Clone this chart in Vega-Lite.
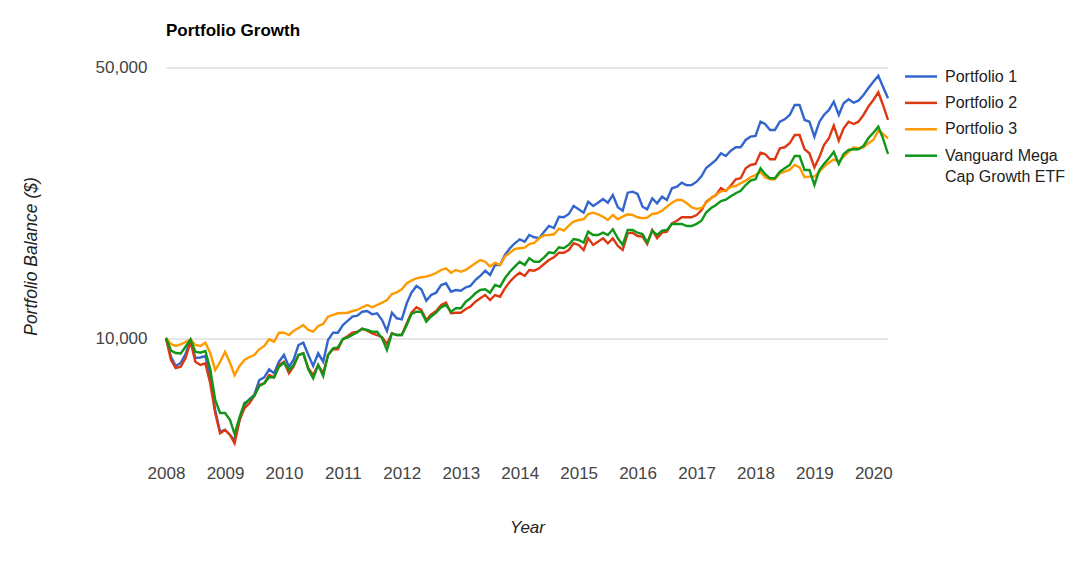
{
  "$schema": "https://vega.github.io/schema/vega-lite/v6.json",
  "width": 722,
  "height": 403,
  "autosize": {"type": "none"},
  "padding": {"left": 166, "top": 51.5, "right": 199, "bottom": 107.5},
  "background": "white",
  "config": {
    "view": {"stroke": null},
    "font": "Liberation Sans",
    "style": {"guide-label": {"lineHeight": 21.7}}
  },
  "title": {"text": "Portfolio Growth", "anchor": "start", "frame": "group", "font": "Liberation Sans", "fontSize": 17, "fontWeight": "bold", "color": "#000000", "baseline": "alphabetic", "offset": -1.9},
  "data": {"values": [
    {"date": "2008-01-01", "Portfolio 1": 10000, "Portfolio 2": 10000, "Portfolio 3": 10000, "Vanguard Mega Cap Growth ETF": 10000},
    {"date": "2008-02-01", "Portfolio 1": 8947, "Portfolio 2": 8773, "Portfolio 3": 9650, "Vanguard Mega Cap Growth ETF": 9282},
    {"date": "2008-03-01", "Portfolio 1": 8466, "Portfolio 2": 8365, "Portfolio 3": 9537, "Vanguard Mega Cap Growth ETF": 9146},
    {"date": "2008-04-01", "Portfolio 1": 8618, "Portfolio 2": 8430, "Portfolio 3": 9621, "Vanguard Mega Cap Growth ETF": 9119},
    {"date": "2008-05-01", "Portfolio 1": 9092, "Portfolio 2": 8862, "Portfolio 3": 9765, "Vanguard Mega Cap Growth ETF": 9495},
    {"date": "2008-06-01", "Portfolio 1": 9853, "Portfolio 2": 9783, "Portfolio 3": 9911, "Vanguard Mega Cap Growth ETF": 9911},
    {"date": "2008-07-01", "Portfolio 1": 8878, "Portfolio 2": 8685, "Portfolio 3": 9592, "Vanguard Mega Cap Growth ETF": 9214},
    {"date": "2008-08-01", "Portfolio 1": 8905, "Portfolio 2": 8516, "Portfolio 3": 9537, "Vanguard Mega Cap Growth ETF": 9162},
    {"date": "2008-09-01", "Portfolio 1": 8985, "Portfolio 2": 8600, "Portfolio 3": 9724, "Vanguard Mega Cap Growth ETF": 9255},
    {"date": "2008-10-01", "Portfolio 1": 7944, "Portfolio 2": 7637, "Portfolio 3": 9146, "Vanguard Mega Cap Growth ETF": 8316},
    {"date": "2008-11-01", "Portfolio 1": 6516, "Portfolio 2": 6388, "Portfolio 3": 8266, "Vanguard Mega Cap Growth ETF": 6915},
    {"date": "2008-12-01", "Portfolio 1": 5726, "Portfolio 2": 5672, "Portfolio 3": 8670, "Vanguard Mega Cap Growth ETF": 6400},
    {"date": "2009-01-01", "Portfolio 1": 5785, "Portfolio 2": 5785, "Portfolio 3": 9214, "Vanguard Mega Cap Growth ETF": 6400},
    {"date": "2009-02-01", "Portfolio 1": 5615, "Portfolio 2": 5615, "Portfolio 3": 8618, "Vanguard Mega Cap Growth ETF": 6139},
    {"date": "2009-03-01", "Portfolio 1": 5451, "Portfolio 2": 5344, "Portfolio 3": 8023, "Vanguard Mega Cap Growth ETF": 5648},
    {"date": "2009-04-01", "Portfolio 1": 6139, "Portfolio 2": 6139, "Portfolio 3": 8466, "Vanguard Mega Cap Growth ETF": 6250},
    {"date": "2009-05-01", "Portfolio 1": 6713, "Portfolio 2": 6582, "Portfolio 3": 8773, "Vanguard Mega Cap Growth ETF": 6793},
    {"date": "2009-06-01", "Portfolio 1": 6956, "Portfolio 2": 6781, "Portfolio 3": 8931, "Vanguard Mega Cap Growth ETF": 6915},
    {"date": "2009-07-01", "Portfolio 1": 7124, "Portfolio 2": 7083, "Portfolio 3": 9038, "Vanguard Mega Cap Growth ETF": 7083},
    {"date": "2009-08-01", "Portfolio 1": 7789, "Portfolio 2": 7560, "Portfolio 3": 9349, "Vanguard Mega Cap Growth ETF": 7516},
    {"date": "2009-09-01", "Portfolio 1": 7915, "Portfolio 2": 7637, "Portfolio 3": 9537, "Vanguard Mega Cap Growth ETF": 7637},
    {"date": "2009-10-01", "Portfolio 1": 8300, "Portfolio 2": 8023, "Portfolio 3": 9923, "Vanguard Mega Cap Growth ETF": 7915},
    {"date": "2009-11-01", "Portfolio 1": 8105, "Portfolio 2": 7915, "Portfolio 3": 9783, "Vanguard Mega Cap Growth ETF": 7915},
    {"date": "2009-12-01", "Portfolio 1": 8685, "Portfolio 2": 8516, "Portfolio 3": 10321, "Vanguard Mega Cap Growth ETF": 8430},
    {"date": "2010-01-01", "Portfolio 1": 9038, "Portfolio 2": 8685, "Portfolio 3": 10321, "Vanguard Mega Cap Growth ETF": 8634},
    {"date": "2010-02-01", "Portfolio 1": 8430, "Portfolio 2": 8105, "Portfolio 3": 10180, "Vanguard Mega Cap Growth ETF": 8266},
    {"date": "2010-03-01", "Portfolio 1": 8773, "Portfolio 2": 8430, "Portfolio 3": 10426, "Vanguard Mega Cap Growth ETF": 8516},
    {"date": "2010-04-01", "Portfolio 1": 9592, "Portfolio 2": 9038, "Portfolio 3": 10613, "Vanguard Mega Cap Growth ETF": 9038},
    {"date": "2010-05-01", "Portfolio 1": 9724, "Portfolio 2": 9130, "Portfolio 3": 10804, "Vanguard Mega Cap Growth ETF": 9130},
    {"date": "2010-06-01", "Portfolio 1": 9038, "Portfolio 2": 8350, "Portfolio 3": 10489, "Vanguard Mega Cap Growth ETF": 8300},
    {"date": "2010-07-01", "Portfolio 1": 8466, "Portfolio 2": 8023, "Portfolio 3": 10383, "Vanguard Mega Cap Growth ETF": 7868},
    {"date": "2010-08-01", "Portfolio 1": 9130, "Portfolio 2": 8516, "Portfolio 3": 10741, "Vanguard Mega Cap Growth ETF": 8516},
    {"date": "2010-09-01", "Portfolio 1": 8685, "Portfolio 2": 8105, "Portfolio 3": 10869, "Vanguard Mega Cap Growth ETF": 7977},
    {"date": "2010-10-01", "Portfolio 1": 9881, "Portfolio 2": 9038, "Portfolio 3": 11352, "Vanguard Mega Cap Growth ETF": 9038},
    {"date": "2010-11-01", "Portfolio 1": 10321, "Portfolio 2": 9349, "Portfolio 3": 11468, "Vanguard Mega Cap Growth ETF": 9405},
    {"date": "2010-12-01", "Portfolio 1": 10321, "Portfolio 2": 9349, "Portfolio 3": 11583, "Vanguard Mega Cap Growth ETF": 9462},
    {"date": "2011-01-01", "Portfolio 1": 10804, "Portfolio 2": 9941, "Portfolio 3": 11604, "Vanguard Mega Cap Growth ETF": 9941},
    {"date": "2011-02-01", "Portfolio 1": 11085, "Portfolio 2": 10120, "Portfolio 3": 11625, "Vanguard Mega Cap Growth ETF": 10042},
    {"date": "2011-03-01", "Portfolio 1": 11352, "Portfolio 2": 10321, "Portfolio 3": 11743, "Vanguard Mega Cap Growth ETF": 10180},
    {"date": "2011-04-01", "Portfolio 1": 11419, "Portfolio 2": 10383, "Portfolio 3": 11816, "Vanguard Mega Cap Growth ETF": 10345},
    {"date": "2011-05-01", "Portfolio 1": 11695, "Portfolio 2": 10569, "Portfolio 3": 12005, "Vanguard Mega Cap Growth ETF": 10569},
    {"date": "2011-06-01", "Portfolio 1": 11743, "Portfolio 2": 10445, "Portfolio 3": 12170, "Vanguard Mega Cap Growth ETF": 10489},
    {"date": "2011-07-01", "Portfolio 1": 11514, "Portfolio 2": 10283, "Portfolio 3": 12005, "Vanguard Mega Cap Growth ETF": 10383},
    {"date": "2011-08-01", "Portfolio 1": 11583, "Portfolio 2": 10180, "Portfolio 3": 12170, "Vanguard Mega Cap Growth ETF": 10383},
    {"date": "2011-09-01", "Portfolio 1": 11131, "Portfolio 2": 10042, "Portfolio 3": 12338, "Vanguard Mega Cap Growth ETF": 9982},
    {"date": "2011-10-01", "Portfolio 1": 10426, "Portfolio 2": 9650, "Portfolio 3": 12539, "Vanguard Mega Cap Growth ETF": 9310},
    {"date": "2011-11-01", "Portfolio 1": 11625, "Portfolio 2": 10283, "Portfolio 3": 12993, "Vanguard Mega Cap Growth ETF": 10283},
    {"date": "2011-12-01", "Portfolio 1": 11244, "Portfolio 2": 10180, "Portfolio 3": 13126, "Vanguard Mega Cap Growth ETF": 10180},
    {"date": "2012-01-01", "Portfolio 1": 11177, "Portfolio 2": 10180, "Portfolio 3": 13361, "Vanguard Mega Cap Growth ETF": 10180},
    {"date": "2012-02-01", "Portfolio 1": 12294, "Portfolio 2": 10915, "Portfolio 3": 13847, "Vanguard Mega Cap Growth ETF": 10804},
    {"date": "2012-03-01", "Portfolio 1": 13095, "Portfolio 2": 11625, "Portfolio 3": 14067, "Vanguard Mega Cap Growth ETF": 11535},
    {"date": "2012-04-01", "Portfolio 1": 13628, "Portfolio 2": 12005, "Portfolio 3": 14267, "Vanguard Mega Cap Growth ETF": 11695},
    {"date": "2012-05-01", "Portfolio 1": 13361, "Portfolio 2": 11816, "Portfolio 3": 14352, "Vanguard Mega Cap Growth ETF": 11695},
    {"date": "2012-06-01", "Portfolio 1": 12486, "Portfolio 2": 11131, "Portfolio 3": 14404, "Vanguard Mega Cap Growth ETF": 11019},
    {"date": "2012-07-01", "Portfolio 1": 12916, "Portfolio 2": 11500, "Portfolio 3": 14548, "Vanguard Mega Cap Growth ETF": 11365},
    {"date": "2012-08-01", "Portfolio 1": 13095, "Portfolio 2": 11743, "Portfolio 3": 14723, "Vanguard Mega Cap Growth ETF": 11625},
    {"date": "2012-09-01", "Portfolio 1": 13707, "Portfolio 2": 12170, "Portfolio 3": 14990, "Vanguard Mega Cap Growth ETF": 12005},
    {"date": "2012-10-01", "Portfolio 1": 13847, "Portfolio 2": 12338, "Portfolio 3": 15141, "Vanguard Mega Cap Growth ETF": 12170},
    {"date": "2012-11-01", "Portfolio 1": 13173, "Portfolio 2": 11583, "Portfolio 3": 14750, "Vanguard Mega Cap Growth ETF": 11695},
    {"date": "2012-12-01", "Portfolio 1": 13306, "Portfolio 2": 11625, "Portfolio 3": 14990, "Vanguard Mega Cap Growth ETF": 11933},
    {"date": "2013-01-01", "Portfolio 1": 13252, "Portfolio 2": 11625, "Portfolio 3": 14838, "Vanguard Mega Cap Growth ETF": 11933},
    {"date": "2013-02-01", "Portfolio 1": 13523, "Portfolio 2": 11884, "Portfolio 3": 14990, "Vanguard Mega Cap Growth ETF": 12412},
    {"date": "2013-03-01", "Portfolio 1": 13628, "Portfolio 2": 12048, "Portfolio 3": 15286, "Vanguard Mega Cap Growth ETF": 12665},
    {"date": "2013-04-01", "Portfolio 1": 14122, "Portfolio 2": 12412, "Portfolio 3": 15598, "Vanguard Mega Cap Growth ETF": 13048},
    {"date": "2013-05-01", "Portfolio 1": 14464, "Portfolio 2": 12665, "Portfolio 3": 15907, "Vanguard Mega Cap Growth ETF": 13306},
    {"date": "2013-06-01", "Portfolio 1": 14926, "Portfolio 2": 12916, "Portfolio 3": 15748, "Vanguard Mega Cap Growth ETF": 13361},
    {"date": "2013-07-01", "Portfolio 1": 14548, "Portfolio 2": 12539, "Portfolio 3": 15286, "Vanguard Mega Cap Growth ETF": 13095},
    {"date": "2013-08-01", "Portfolio 1": 15440, "Portfolio 2": 12916, "Portfolio 3": 15654, "Vanguard Mega Cap Growth ETF": 13707},
    {"date": "2013-09-01", "Portfolio 1": 15440, "Portfolio 2": 12787, "Portfolio 3": 15440, "Vanguard Mega Cap Growth ETF": 13571},
    {"date": "2013-10-01", "Portfolio 1": 16387, "Portfolio 2": 13442, "Portfolio 3": 16225, "Vanguard Mega Cap Growth ETF": 14267},
    {"date": "2013-11-01", "Portfolio 1": 17054, "Portfolio 2": 13980, "Portfolio 3": 16614, "Vanguard Mega Cap Growth ETF": 14838},
    {"date": "2013-12-01", "Portfolio 1": 17570, "Portfolio 2": 14404, "Portfolio 3": 16984, "Vanguard Mega Cap Growth ETF": 15286},
    {"date": "2014-01-01", "Portfolio 1": 17992, "Portfolio 2": 14750, "Portfolio 3": 17054, "Vanguard Mega Cap Growth ETF": 15748},
    {"date": "2014-02-01", "Portfolio 1": 17738, "Portfolio 2": 14464, "Portfolio 3": 17116, "Vanguard Mega Cap Growth ETF": 15440},
    {"date": "2014-03-01", "Portfolio 1": 18458, "Portfolio 2": 14990, "Portfolio 3": 17496, "Vanguard Mega Cap Growth ETF": 16069},
    {"date": "2014-04-01", "Portfolio 1": 18208, "Portfolio 2": 14926, "Portfolio 3": 17601, "Vanguard Mega Cap Growth ETF": 15748},
    {"date": "2014-05-01", "Portfolio 1": 18100, "Portfolio 2": 15141, "Portfolio 3": 18100, "Vanguard Mega Cap Growth ETF": 15748},
    {"date": "2014-06-01", "Portfolio 1": 18826, "Portfolio 2": 15533, "Portfolio 3": 18426, "Vanguard Mega Cap Growth ETF": 16166},
    {"date": "2014-07-01", "Portfolio 1": 19474, "Portfolio 2": 15907, "Portfolio 3": 18458, "Vanguard Mega Cap Growth ETF": 16644},
    {"date": "2014-08-01", "Portfolio 1": 19243, "Portfolio 2": 16166, "Portfolio 3": 18535, "Vanguard Mega Cap Growth ETF": 16555},
    {"date": "2014-09-01", "Portfolio 1": 20583, "Portfolio 2": 16614, "Portfolio 3": 19163, "Vanguard Mega Cap Growth ETF": 17157},
    {"date": "2014-10-01", "Portfolio 1": 20510, "Portfolio 2": 16614, "Portfolio 3": 18939, "Vanguard Mega Cap Growth ETF": 17054},
    {"date": "2014-11-01", "Portfolio 1": 20915, "Portfolio 2": 16883, "Portfolio 3": 19510, "Vanguard Mega Cap Growth ETF": 17424},
    {"date": "2014-12-01", "Portfolio 1": 21936, "Portfolio 2": 17570, "Portfolio 3": 19979, "Vanguard Mega Cap Growth ETF": 18024},
    {"date": "2015-01-01", "Portfolio 1": 21510, "Portfolio 2": 17394, "Portfolio 3": 20182, "Vanguard Mega Cap Growth ETF": 17917},
    {"date": "2015-02-01", "Portfolio 1": 21078, "Portfolio 2": 16883, "Portfolio 3": 20267, "Vanguard Mega Cap Growth ETF": 17633},
    {"date": "2015-03-01", "Portfolio 1": 22505, "Portfolio 2": 18100, "Portfolio 3": 20915, "Vanguard Mega Cap Growth ETF": 18826},
    {"date": "2015-04-01", "Portfolio 1": 21936, "Portfolio 2": 17394, "Portfolio 3": 21078, "Vanguard Mega Cap Growth ETF": 18458},
    {"date": "2015-05-01", "Portfolio 1": 22370, "Portfolio 2": 17738, "Portfolio 3": 20873, "Vanguard Mega Cap Growth ETF": 18458},
    {"date": "2015-06-01", "Portfolio 1": 22868, "Portfolio 2": 18100, "Portfolio 3": 20583, "Vanguard Mega Cap Growth ETF": 18714},
    {"date": "2015-07-01", "Portfolio 1": 22370, "Portfolio 2": 17570, "Portfolio 3": 20182, "Vanguard Mega Cap Growth ETF": 18458},
    {"date": "2015-08-01", "Portfolio 1": 23418, "Portfolio 2": 18100, "Portfolio 3": 20791, "Vanguard Mega Cap Growth ETF": 19097},
    {"date": "2015-09-01", "Portfolio 1": 21767, "Portfolio 2": 17290, "Portfolio 3": 20267, "Vanguard Mega Cap Growth ETF": 18100},
    {"date": "2015-10-01", "Portfolio 1": 21331, "Portfolio 2": 16883, "Portfolio 3": 20583, "Vanguard Mega Cap Growth ETF": 17394},
    {"date": "2015-11-01", "Portfolio 1": 23743, "Portfolio 2": 18646, "Portfolio 3": 20873, "Vanguard Mega Cap Growth ETF": 19017},
    {"date": "2015-12-01", "Portfolio 1": 23885, "Portfolio 2": 18714, "Portfolio 3": 20791, "Vanguard Mega Cap Growth ETF": 19017},
    {"date": "2016-01-01", "Portfolio 1": 23559, "Portfolio 2": 18350, "Portfolio 3": 20510, "Vanguard Mega Cap Growth ETF": 18714},
    {"date": "2016-02-01", "Portfolio 1": 21846, "Portfolio 2": 18274, "Portfolio 3": 20388, "Vanguard Mega Cap Growth ETF": 18570},
    {"date": "2016-03-01", "Portfolio 1": 21510, "Portfolio 2": 17496, "Portfolio 3": 20461, "Vanguard Mega Cap Growth ETF": 17633},
    {"date": "2016-04-01", "Portfolio 1": 22964, "Portfolio 2": 19017, "Portfolio 3": 20915, "Vanguard Mega Cap Growth ETF": 18939},
    {"date": "2016-05-01", "Portfolio 1": 22290, "Portfolio 2": 18100, "Portfolio 3": 21002, "Vanguard Mega Cap Growth ETF": 18458},
    {"date": "2016-06-01", "Portfolio 1": 23185, "Portfolio 2": 18714, "Portfolio 3": 21331, "Vanguard Mega Cap Growth ETF": 18939},
    {"date": "2016-07-01", "Portfolio 1": 22732, "Portfolio 2": 18826, "Portfolio 3": 21846, "Vanguard Mega Cap Growth ETF": 19017},
    {"date": "2016-08-01", "Portfolio 1": 24372, "Portfolio 2": 19789, "Portfolio 3": 22370, "Vanguard Mega Cap Growth ETF": 19708},
    {"date": "2016-09-01", "Portfolio 1": 24605, "Portfolio 2": 20097, "Portfolio 3": 22732, "Vanguard Mega Cap Growth ETF": 19708},
    {"date": "2016-10-01", "Portfolio 1": 25198, "Portfolio 2": 20510, "Portfolio 3": 22732, "Vanguard Mega Cap Growth ETF": 19708},
    {"date": "2016-11-01", "Portfolio 1": 24812, "Portfolio 2": 20510, "Portfolio 3": 22290, "Vanguard Mega Cap Growth ETF": 19474},
    {"date": "2016-12-01", "Portfolio 1": 24855, "Portfolio 2": 20510, "Portfolio 3": 21767, "Vanguard Mega Cap Growth ETF": 19474},
    {"date": "2017-01-01", "Portfolio 1": 25349, "Portfolio 2": 20791, "Portfolio 3": 21546, "Vanguard Mega Cap Growth ETF": 19708},
    {"date": "2017-02-01", "Portfolio 1": 26223, "Portfolio 2": 21420, "Portfolio 3": 21676, "Vanguard Mega Cap Growth ETF": 20122},
    {"date": "2017-03-01", "Portfolio 1": 27501, "Portfolio 2": 22464, "Portfolio 3": 22330, "Vanguard Mega Cap Growth ETF": 21103},
    {"date": "2017-04-01", "Portfolio 1": 28164, "Portfolio 2": 23005, "Portfolio 3": 22964, "Vanguard Mega Cap Growth ETF": 21676},
    {"date": "2017-05-01", "Portfolio 1": 28843, "Portfolio 2": 23418, "Portfolio 3": 23465, "Vanguard Mega Cap Growth ETF": 22067},
    {"date": "2017-06-01", "Portfolio 1": 30015, "Portfolio 2": 24415, "Portfolio 3": 23938, "Vanguard Mega Cap Growth ETF": 22598},
    {"date": "2017-07-01", "Portfolio 1": 29537, "Portfolio 2": 23985, "Portfolio 3": 24026, "Vanguard Mega Cap Growth ETF": 22773},
    {"date": "2017-08-01", "Portfolio 1": 30483, "Portfolio 2": 24781, "Portfolio 3": 24590, "Vanguard Mega Cap Growth ETF": 23240},
    {"date": "2017-09-01", "Portfolio 1": 31107, "Portfolio 2": 25715, "Portfolio 3": 24707, "Vanguard Mega Cap Growth ETF": 23658},
    {"date": "2017-10-01", "Portfolio 1": 31107, "Portfolio 2": 25866, "Portfolio 3": 25108, "Vanguard Mega Cap Growth ETF": 24026},
    {"date": "2017-11-01", "Portfolio 1": 32490, "Portfolio 2": 27452, "Portfolio 3": 25501, "Vanguard Mega Cap Growth ETF": 24855},
    {"date": "2017-12-01", "Portfolio 1": 33133, "Portfolio 2": 28000, "Portfolio 3": 26022, "Vanguard Mega Cap Growth ETF": 25501},
    {"date": "2018-01-01", "Portfolio 1": 33272, "Portfolio 2": 28164, "Portfolio 3": 26380, "Vanguard Mega Cap Growth ETF": 25715},
    {"date": "2018-02-01", "Portfolio 1": 36226, "Portfolio 2": 30122, "Portfolio 3": 26903, "Vanguard Mega Cap Growth ETF": 27452},
    {"date": "2018-03-01", "Portfolio 1": 35731, "Portfolio 2": 29888, "Portfolio 3": 26022, "Vanguard Mega Cap Growth ETF": 26537},
    {"date": "2018-04-01", "Portfolio 1": 34480, "Portfolio 2": 28961, "Portfolio 3": 25715, "Vanguard Mega Cap Growth ETF": 25866},
    {"date": "2018-05-01", "Portfolio 1": 34480, "Portfolio 2": 28961, "Portfolio 3": 25715, "Vanguard Mega Cap Growth ETF": 25866},
    {"date": "2018-06-01", "Portfolio 1": 36226, "Portfolio 2": 30922, "Portfolio 3": 26648, "Vanguard Mega Cap Growth ETF": 26903},
    {"date": "2018-07-01", "Portfolio 1": 36744, "Portfolio 2": 31107, "Portfolio 3": 26903, "Vanguard Mega Cap Growth ETF": 27452},
    {"date": "2018-08-01", "Portfolio 1": 37701, "Portfolio 2": 31855, "Portfolio 3": 27233, "Vanguard Mega Cap Growth ETF": 28000},
    {"date": "2018-09-01", "Portfolio 1": 40013, "Portfolio 2": 33464, "Portfolio 3": 28000, "Vanguard Mega Cap Growth ETF": 29537},
    {"date": "2018-10-01", "Portfolio 1": 40013, "Portfolio 2": 33464, "Portfolio 3": 27614, "Vanguard Mega Cap Growth ETF": 29537},
    {"date": "2018-11-01", "Portfolio 1": 36594, "Portfolio 2": 30740, "Portfolio 3": 26022, "Vanguard Mega Cap Growth ETF": 27177},
    {"date": "2018-12-01", "Portfolio 1": 36226, "Portfolio 2": 30015, "Portfolio 3": 26117, "Vanguard Mega Cap Growth ETF": 27177},
    {"date": "2019-01-01", "Portfolio 1": 33133, "Portfolio 2": 27614, "Portfolio 3": 26117, "Vanguard Mega Cap Growth ETF": 24855},
    {"date": "2019-02-01", "Portfolio 1": 36226, "Portfolio 2": 29362, "Portfolio 3": 26903, "Vanguard Mega Cap Growth ETF": 27177},
    {"date": "2019-03-01", "Portfolio 1": 37701, "Portfolio 2": 31536, "Portfolio 3": 27714, "Vanguard Mega Cap Growth ETF": 28164},
    {"date": "2019-04-01", "Portfolio 1": 38840, "Portfolio 2": 32817, "Portfolio 3": 28383, "Vanguard Mega Cap Growth ETF": 29135},
    {"date": "2019-05-01", "Portfolio 1": 40804, "Portfolio 2": 35377, "Portfolio 3": 28961, "Vanguard Mega Cap Growth ETF": 30254},
    {"date": "2019-06-01", "Portfolio 1": 37701, "Portfolio 2": 32348, "Portfolio 3": 28552, "Vanguard Mega Cap Growth ETF": 28164},
    {"date": "2019-07-01", "Portfolio 1": 40417, "Portfolio 2": 34830, "Portfolio 3": 29416, "Vanguard Mega Cap Growth ETF": 29888},
    {"date": "2019-08-01", "Portfolio 1": 41389, "Portfolio 2": 36226, "Portfolio 3": 30254, "Vanguard Mega Cap Growth ETF": 30617},
    {"date": "2019-09-01", "Portfolio 1": 40562, "Portfolio 2": 35731, "Portfolio 3": 31107, "Vanguard Mega Cap Growth ETF": 30740},
    {"date": "2019-10-01", "Portfolio 1": 41050, "Portfolio 2": 36226, "Portfolio 3": 30922, "Vanguard Mega Cap Growth ETF": 30740},
    {"date": "2019-11-01", "Portfolio 1": 42465, "Portfolio 2": 37701, "Portfolio 3": 31107, "Vanguard Mega Cap Growth ETF": 31347},
    {"date": "2019-12-01", "Portfolio 1": 44190, "Portfolio 2": 39608, "Portfolio 3": 31855, "Vanguard Mega Cap Growth ETF": 32817},
    {"date": "2020-01-01", "Portfolio 1": 45963, "Portfolio 2": 41217, "Portfolio 3": 32490, "Vanguard Mega Cap Growth ETF": 33929},
    {"date": "2020-02-01", "Portfolio 1": 47635, "Portfolio 2": 43151, "Portfolio 3": 34350, "Vanguard Mega Cap Growth ETF": 35168},
    {"date": "2020-03-01", "Portfolio 1": 44614, "Portfolio 2": 40013, "Portfolio 3": 33666, "Vanguard Mega Cap Growth ETF": 32817},
    {"date": "2020-04-01", "Portfolio 1": 41637, "Portfolio 2": 36594, "Portfolio 3": 32817, "Vanguard Mega Cap Growth ETF": 29888}
  ]},
  "transform": [
    {"fold": ["Portfolio 1", "Portfolio 2", "Portfolio 3", "Vanguard Mega Cap Growth ETF"], "as": ["series", "value"]}
  ],
  "mark": {"type": "line", "strokeWidth": 2.4, "interpolate": "linear"},
  "encoding": {
    "x": {
      "field": "date", "type": "temporal",
      "scale": {"type": "utc", "nice": false},
      "axis": {
        "title": "Year", "titleFont": "Liberation Sans", "titleFontSize": 17, "titleFontStyle": "italic", "titleFontWeight": "normal", "titleColor": "#222222",
        "titleX": 361, "titleY": 72.5, "titleAlign": "center", "titleBaseline": "middle",
        "values": [
          {"year": 2008, "utc": true}, {"year": 2009, "utc": true}, {"year": 2010, "utc": true}, {"year": 2011, "utc": true},
          {"year": 2012, "utc": true}, {"year": 2013, "utc": true}, {"year": 2014, "utc": true}, {"year": 2015, "utc": true},
          {"year": 2016, "utc": true}, {"year": 2017, "utc": true}, {"year": 2018, "utc": true}, {"year": 2019, "utc": true},
          {"year": 2020, "utc": true}
        ],
        "format": "%Y", "formatType": "utc",
        "labelFont": "Liberation Sans", "labelFontSize": 17, "labelColor": "#444444",
        "labelBaseline": "middle", "labelPadding": 18.5, "labelFlush": false, "labelOverlap": false,
        "ticks": false, "domain": false, "grid": false
      }
    },
    "y": {
      "field": "value", "type": "quantitative",
      "scale": {"type": "log", "domain": [5000, 55000], "nice": false, "zero": false},
      "axis": {
        "title": "Portfolio Balance ($)", "titleFont": "Liberation Sans", "titleFontSize": 17.5, "titleFontStyle": "italic", "titleFontWeight": "normal", "titleColor": "#222222",
        "titleX": -135, "titleY": 204.5, "titleAngle": -90, "titleAlign": "center", "titleBaseline": "middle",
        "values": [10000, 50000], "format": ",",
        "labelFont": "Liberation Sans", "labelFontSize": 17, "labelColor": "#444444", "labelPadding": 19,
        "grid": true, "gridColor": "#cccccc", "gridWidth": 1,
        "ticks": false, "domain": false
      }
    },
    "color": {
      "field": "series", "type": "nominal",
      "scale": {
        "domain": ["Portfolio 1", "Portfolio 2", "Portfolio 3", "Vanguard Mega Cap Growth ETF"],
        "range": ["#3366cc", "#dc3912", "#ff9900", "#109618"]
      },
      "legend": {
        "title": null, "orient": "none", "legendX": 747, "legendY": 17,
        "symbolType": "M-3.2,0H3.2", "symbolSize": 100, "symbolStrokeWidth": 2.5,
        "labelFont": "Liberation Sans", "labelFontSize": 16, "labelColor": "#222222",
        "labelOffset": 16, "rowPadding": 10.4, "padding": 0, "labelLimit": 200,
        "labelExpr": "datum.label == 'Vanguard Mega Cap Growth ETF' ? ['Vanguard Mega', 'Cap Growth ETF'] : datum.label"
      }
    }
  }
}
